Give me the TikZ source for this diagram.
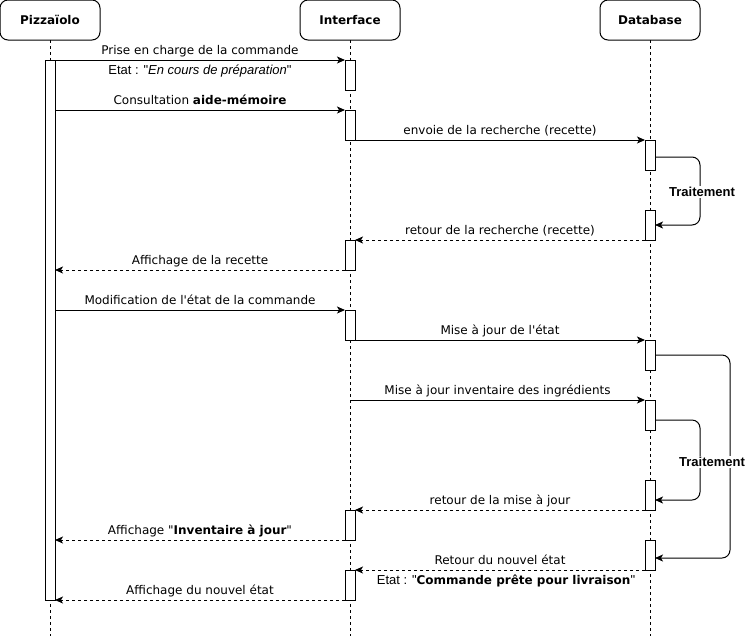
\documentclass[tikz,border=0pt]{standalone}
\usepackage{fontspec}
\setmainfont{DejaVu Sans}[Ligatures=TeXOff]
\newfontfamily\arialf{Liberation Sans}[Ligatures=TeXOff]
\usetikzlibrary{arrows.meta,calc}
\newcommand\arl{\arialf\fontsize{13}{15}\selectfont}
\begin{document}
\begin{tikzpicture}[x=1pt,y=-1pt,line width=1pt,
  head/.style={draw,rounded corners=8pt,minimum width=100pt,minimum height=40pt,inner sep=0pt,outer sep=0pt,font=\bfseries\fontsize{12}{14}\selectfont},
  life/.style={dashed},
  act/.style={draw,fill=white,minimum width=10pt,minimum height=30pt,inner sep=0pt,outer sep=0pt},
  msg/.style={-{Stealth[length=8pt,width=7pt,inset=2pt]}},
  ret/.style={msg,dashed},
  lbl/.style={above,inner sep=0pt,yshift=2pt,text height=9pt,text depth=3pt,font=\fontsize{12}{14}\selectfont},
  lblb/.style={below,inner sep=0pt,yshift=-5pt,text height=9pt,text depth=3pt,font=\fontsize{12}{14}\selectfont},
  loopline/.style={msg,rounded corners=8pt},
  trt/.style={fill=white,inner sep=1pt,font=\arialf\bfseries\fontsize{13}{15}\selectfont}
]
\useasboundingbox (0,0) rectangle (747,641);
% headers
\node[head] (P) at (50,20) {Pizzaïolo};
\node[head] (I) at (350,20) {Interface};
\node[head] (D) at (650,20) {Database};
\coordinate (Pe) at (50,636);
\coordinate (Ie) at (350,636);
\coordinate (De) at (650,636);
\draw[life] (P.south) -- (Pe);
\draw[life] (I.south) -- (Ie);
\draw[life] (D.south) -- (De);
% activations
\node[act,minimum height=540pt] (p1) at (50,330) {};
\node[act] (i1) at (350,75) {};
\node[act] (i2) at (350,125) {};
\node[act] (i3) at (350,255) {};
\node[act] (i4) at (350,325) {};
\node[act] (i5) at (350,525) {};
\node[act] (i6) at (350,585) {};
\node[act] (d1) at (650,155) {};
\node[act] (d2) at (650,225) {};
\node[act] (d3) at (650,355) {};
\node[act] (d4) at (650,415) {};
\node[act] (d5) at (650,495) {};
\node[act] (d6) at (650,555) {};
% messages
\draw[msg] (p1.east |- i1.north) -- node[lbl] (m1) {Prise en charge de la commande}
  node[lblb] (m1b) {{\arl Etat : "\textit{En cours de préparation}"}} (i1.north west);
\draw[msg] (p1.east |- i2.north) -- node[lbl] (m2) {Consultation \textbf{aide-mémoire}} (i2.north west);
\draw[msg] (i2.south east) -- node[lbl] (m3) {envoie de la recherche (recette)} (d1.north west);
\draw[loopline] ([yshift=-2pt]d1.east) -- ++(45,0) |- (d2.east);
\node[trt] (t1) at (702,192) {Traitement};
\draw[ret] (d2.south west) -- node[lbl] (m4) {retour de la recherche (recette)} (i3.north east);
\draw[ret] (i3.south west) -- node[lbl] (m5) {Affichage de la recette} (p1.east |- i3.south);
\draw[msg] (p1.east |- i4.north) -- node[lbl] (m6) {Modification de l'état de la commande} (i4.north west);
\draw[msg] (i4.south east) -- node[lbl] (m7) {Mise à jour de l'état} (d3.north west);
\draw[loopline] (d3.east) -- ++(75,0) |- ([yshift=-3pt]d6.east);
\draw[msg] (I.south |- d4.north) -- node[lbl] (m8) {Mise à jour inventaire des ingrédients} (d4.north west);
\draw[loopline] ([yshift=-5pt]d4.east) -- ++(45,0) |- ([yshift=-5pt]d5.east);
\node[trt] (t2) at (712,462) {Traitement};
\draw[ret] (d5.south west) -- node[lbl] (m9) {retour de la mise à jour} (i5.north east);
\draw[ret] (i5.south west) -- node[lbl] (m10) {Affichage "\textbf{Inventaire à jour}"} (p1.east |- i5.south);
\draw[ret] (d6.south west) -- node[lbl] (m11) {Retour du nouvel état}
  node[lblb,xshift=6pt] (m11b) {{\arl Etat : "}\textbf{Commande prête pour livraison}{\arl "}} (i6.north east);
\draw[ret] (i6.south west) -- node[lbl] (m12) {Affichage du nouvel état} (p1.south east);
\end{tikzpicture}
\end{document}
